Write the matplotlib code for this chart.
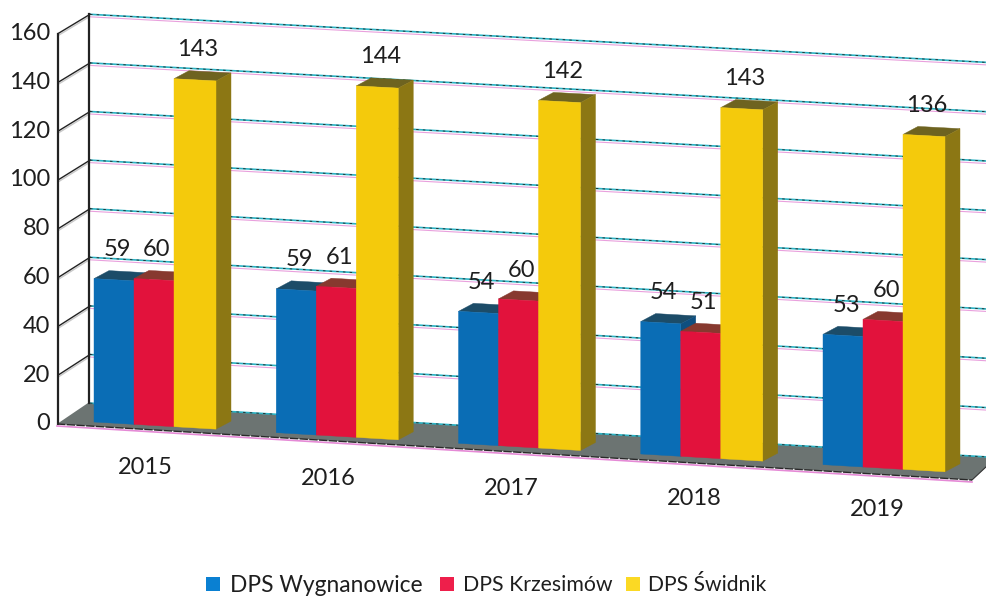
import matplotlib
matplotlib.use("Agg")
import matplotlib.pyplot as plt

years = ["2015", "2016", "2017", "2018", "2019"]
series_names = ["DPS Wygnanowice", "DPS Krzesimów", "DPS Świdnik"]
wygnanowice = [59, 59, 54, 54, 53]
krzesimow = [60, 61, 60, 51, 60]
swidnik = [143, 144, 142, 143, 136]
y_ticks = [0, 20, 40, 60, 80, 100, 120, 140, 160]

front_colors = ["#0a6db5", "#e2123c", "#f4ca0c"]
top_colors = ["#1c4c68", "#87392f", "#6e6320"]
side_colors = ["#0e4f80", "#8f1f30", "#8c7714"]
legend_colors = ["#0a80d2", "#ee1f4b", "#fbd924"]

plt.rcParams["font.family"] = ["Lato", "DejaVu Sans"]


# fake 3d: value -> pixel on a sheared plane
def scale_at(x):
    return 2.43 + (x - 90) * 4e-5


def base_y(x):
    return 416.5 + 0.0585 * x


def bar_point(x, value):
    return x, base_y(x) - value * scale_at(x)


def wall_y(x, value):
    return 403 + 0.06 * (x - 88) - value * scale_at(x)


def front_y(value):
    return 424 - value * 2.44


def draw_bar(ax, left, width, value, s):
    dx, dy = 15, -8
    x0, y0 = bar_point(left, value)
    x1, y1 = bar_point(left + width, value)
    xb0, yb0 = bar_point(left, 0)
    xb1, yb1 = bar_point(left + width, 0)
    ax.fill([x0, x1, x1 + dx, x0 + dx], [y0, y1, y1 + dy, y0 + dy], color=top_colors[s], lw=0.3, zorder=5)
    ax.fill([x1, xb1, xb1 + dx, x1 + dx], [y1, yb1, yb1 + dy, y1 + dy], color=side_colors[s], lw=0.3, zorder=5)
    ax.fill([x0, x1, xb1, xb0], [y0, y1, yb1, yb0], color=front_colors[s], lw=0.3, zorder=5)


fig = plt.figure(figsize=(9.87, 5.98), dpi=100)
ax = fig.add_axes([0, 0, 1, 1])
ax.set_xlim(0, 987)
ax.set_ylim(598, 0)
ax.axis("off")

# floor
ax.fill([57, 88, 987, 987, 972], [424, 403, 457, 466, 480], color="#6c7472", lw=0, zorder=1)
ax.plot([57, 972], [426, 482], color="#e58ad6", lw=1.2, zorder=6)
ax.plot([57, 972], [424, 480], color="#2a2a2a", lw=1, ls=(0, (6, 1)), zorder=6)
ax.plot([972, 987], [480, 466], color="#333333", lw=0.8, zorder=2)

# back wall and left wall grid
for v in y_ticks:
    yl, yr = wall_y(90, v), wall_y(987, v)
    if v > 0:
        ax.plot([90, 987], [yl + 2.5, yr + 2.5], color="#e9a0dd", lw=0.8, zorder=2)
    ax.plot([90, 987], [yl, yr], color="#2bb3c4", lw=1.2, zorder=2)
    ax.plot([90, 987], [yl, yr], color="#222222", lw=0.6, ls=(0, (3, 5)), zorder=3)
    if v > 0:
        ax.plot([58, 90], [front_y(v) + 2, wall_y(90, v) + 2], color="#c9c9c9", lw=1, zorder=2)
        ax.plot([58, 90], [front_y(v), wall_y(90, v)], color="#222222", lw=1, zorder=3)
    ax.text(50, front_y(v), str(v), ha="right", va="center", fontsize=17, color="#1e1e1e")

ax.plot([58, 58], [front_y(160), front_y(0)], color="#222222", lw=1.6, zorder=3)
ax.plot([89, 89], [wall_y(90, 160), wall_y(90, 0)], color="#222222", lw=1.6, zorder=3)

# bars and value labels
all_values = [wygnanowice, krzesimow, swidnik]
widths = [40, 40, 42]
for i, year in enumerate(years):
    left = 94 + 182.25 * i
    for s, values in enumerate(all_values):
        draw_bar(ax, left, widths[s], values[i], s)
        cx = left + widths[s] / 2
        _, top = bar_point(cx, values[i])
        ax.text(cx + 3, top - 30, str(values[i]), ha="center", va="center", fontsize=17, color="#1e1e1e", zorder=7)
        left += widths[s]
    ax.text(145 + 183 * i, 468 + 10.3 * i, year, ha="center", va="center", fontsize=17, color="#1e1e1e")

# legend
legend_sq = [206, 440, 626]
legend_txt = [230, 463, 648]
legend_size = [16.4, 15.3, 15.2]
for s, name in enumerate(series_names):
    ax.fill([legend_sq[s], legend_sq[s] + 14, legend_sq[s] + 14, legend_sq[s]],
            [577, 577, 591, 591], color=legend_colors[s], lw=0)
    ax.text(legend_txt[s], 585, name, ha="left", va="center", fontsize=legend_size[s], color="#1e1e1e")

fig.savefig("out.png", dpi=100)
